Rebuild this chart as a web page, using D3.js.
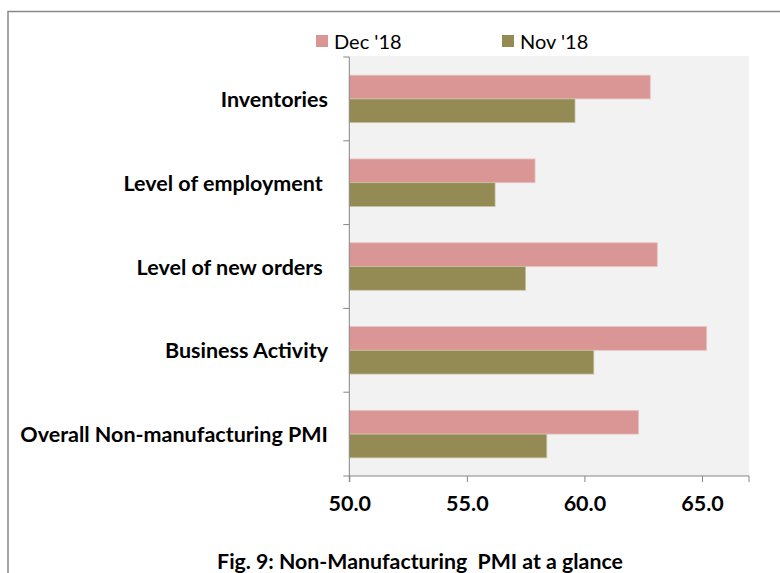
<!DOCTYPE html>
<html><head><meta charset="utf-8">
<script src="https://cdn.jsdelivr.net/npm/d3@7"></script>
<style>body{margin:0;background:#fff}svg{display:block}text{font-family:Lato,"Open Sans",sans-serif}</style>
</head><body><svg id="c" width="780" height="573"></svg>
<script>
const categories = ["Inventories", "Level of employment ", "Level of new orders ", "Business Activity", "Overall Non-manufacturing PMI"];
const seriesNames = ["Dec '18", "Nov '18"];
const dec18 = [62.8, 57.9, 63.1, 65.2, 62.3];
const nov18 = [59.6, 56.2, 57.5, 60.4, 58.4];
const xTicks = [50, 55, 60, 65];
const colors = ["#D99694", "#948A54"];
const title = "Fig. 9: Non-Manufacturing  PMI at a glance";

const svg = d3.select("#c");
const L = 349.3, R = 749, T = 57, B = 476;

// frame
svg.append("path").attr("d", `M8,573V11.5H780`).attr("fill","none").attr("stroke","#898989").attr("stroke-width",1.5);

const x = d3.scaleLinear().domain([50, 67]).range([L, R]);
const y = d3.scaleBand().domain(categories).range([T, B]).padding(0);
const yi = d3.scaleBand().domain(seriesNames).range([0, y.bandwidth()]).paddingInner(0).paddingOuter(0.765);

svg.append("rect").attr("x", L).attr("y", T - 1).attr("width", R - L).attr("height", B - T + 1).attr("fill", "#F2F2F2");

const data = categories.map((c, i) => ({c, vals: [dec18[i], nov18[i]]}));
const g = svg.append("g");
data.forEach(d => {
  d.vals.forEach((v, j) => {
    g.append("rect")
      .attr("x", x(50))
      .attr("y", y(d.c) + yi(seriesNames[j]))
      .attr("width", x(v) - x(50))
      .attr("height", yi.bandwidth())
      .attr("fill", colors[j])
      .attr("stroke", j === 0 ? "#E8C4C3" : "#C9C2A0")
      .attr("stroke-width", 0.8);
  });
});

// y axis
const yAxisG = svg.append("g");
yAxisG.append("line").attr("x1", L).attr("x2", L).attr("y1", T).attr("y2", B).attr("stroke", "#868686");
const bounds = categories.map(c => y(c)).concat([B]);
bounds.forEach(b => yAxisG.append("line").attr("x1", L - 6).attr("x2", L).attr("y1", b).attr("y2", b).attr("stroke", "#868686"));
categories.forEach(c => {
  svg.append("text").attr("x", 328).attr("y", y(c) + y.bandwidth() / 2)
    .attr("text-anchor", "end").attr("dominant-baseline", "central")
    .attr("font-weight", "bold").attr("font-size", 21.5).attr("fill", "#000")
    .style("white-space", "pre").text(c);
});

// x axis
const xAxis = d3.axisBottom(x).tickValues(xTicks).tickSize(6).tickFormat(d3.format(".1f"));
const xg = svg.append("g").attr("transform", `translate(0,${B})`).call(xAxis);
xg.select(".domain").attr("stroke", "#868686").attr("d", `M${L},6V0H${R}V6`);
xg.selectAll(".tick line").attr("stroke", "#868686");
xg.selectAll(".tick text").attr("font-size", 21.5).attr("font-weight", "bold").attr("fill", "#000")
  .attr("font-family", "Lato,'Open Sans',sans-serif").attr("dy", null).attr("y", 27).attr("dominant-baseline", "central");

// legend
const legX = [316, 502];
seriesNames.forEach((s, i) => {
  svg.append("rect").attr("x", legX[i]).attr("y", 35).attr("width", 12).attr("height", 12).attr("fill", colors[i]);
  svg.append("text").attr("x", legX[i] + 18).attr("y", 41).attr("dominant-baseline", "central")
    .attr("font-size", 20).attr("fill", "#000").text(s);
});

// title
svg.append("text").attr("x", 420).attr("y", 561).attr("text-anchor", "middle").attr("dominant-baseline", "central")
  .attr("font-size", 21.3).attr("font-weight", "bold").attr("fill", "#000").style("white-space", "pre").text(title);
</script></body></html>
